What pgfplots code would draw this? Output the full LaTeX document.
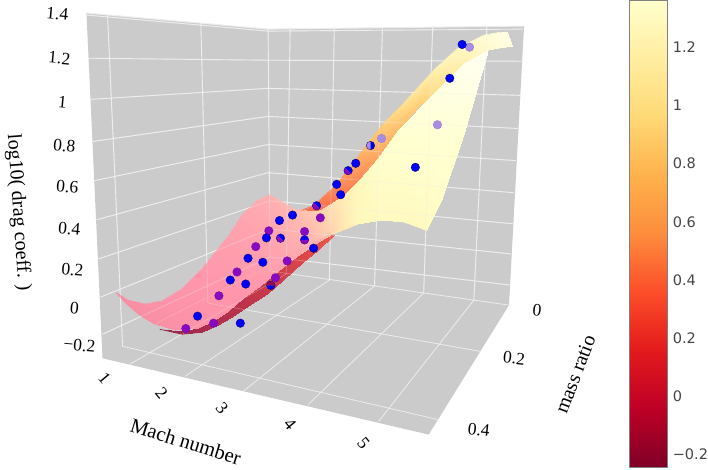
\documentclass[border=0pt]{standalone}
\usepackage{fontspec}
\setmainfont{Liberation Serif}
\newfontfamily\barfont{DejaVu Sans}
\usepackage{pgfplots}
\usetikzlibrary{plotmarks}
\pgfplotsset{compat=1.18}

\definecolor{wall}{RGB}{203,203,203}
\definecolor{gridc}{RGB}{238,238,238}
\definecolor{dotblue}{RGB}{0,0,250}
\definecolor{dotpurple}{RGB}{136,10,196}
\definecolor{dotlav}{RGB}{168,140,232}
\definecolor{dotred}{RGB}{150,10,90}

\tikzset{tl/.style={font=\fontsize{17.5}{18}\selectfont}}
\pgfplotsset{
  % lit top of the surface
  colormap={sheet}{rgb255=(225,110,145) rgb255=(245,140,160) rgb255=(255,150,172) rgb255=(255,172,176)
    rgb255=(255,205,175) rgb255=(255,232,178) rgb255=(255,248,188) rgb255=(255,255,208) rgb255=(255,255,245)},
  % fold of the surface
  colormap={band}{rgb255=(150,40,78) rgb255=(185,50,75) rgb255=(225,75,72) rgb255=(250,105,80)
    rgb255=(255,150,90) rgb255=(255,190,108) rgb255=(255,220,135) rgb255=(255,245,185) rgb255=(255,255,228)},
  colormap={ylorrd}{rgb255=(128,0,38) rgb255=(189,0,38) rgb255=(227,26,28) rgb255=(252,78,42)
    rgb255=(253,141,60) rgb255=(254,178,76) rgb255=(254,217,118) rgb255=(255,237,160) rgb255=(255,255,204)},
  dots/.style={only marks, mark=*, mark size=4.3pt, forget plot},
  edge/.style={mesh, line width=0.7pt, point meta=explicit, forget plot, no marks},
}

% wall and floor grid, drawn again faintly over the surface
\newcommand{\wallgrid}[1]{%
  \addplot[gridc, line width=0.9pt, unbounded coords=jump, forget plot, #1] coordinates {
    (87,13)(268,29)(nan,nan) (87,15)(268,31)(nan,nan)
    (89,58)(268,60)(nan,nan) (91,99)(268,88)(nan,nan) (93,141)(268,116)(nan,nan)
    (95,180)(268,144)(nan,nan) (97,219)(268,172)(nan,nan) (99,258)(270,200)(nan,nan)
    (101,296)(270,228)(nan,nan) (103,333)(270,256)(nan,nan)
    (108,15)(123,345)(nan,nan) (201,23)(208,302)(nan,nan) (268,29)(270,270)(nan,nan)
    (268,29)(523,26)(nan,nan) (268,31)(522,29)(nan,nan)
    (268,60)(522,61)(nan,nan) (268,88)(519,95)(nan,nan) (268,116)(517,128)(nan,nan)
    (268,144)(515,160)(nan,nan) (268,172)(513,192)(nan,nan) (270,200)(512,223)(nan,nan)
    (270,228)(510,253)(nan,nan) (270,256)(509,284)(nan,nan)
    (290,27)(286,273)(nan,nan) (334,27)(329,279)(nan,nan) (382,27)(374,285)(nan,nan)
    (432,26)(423,292)(nan,nan) (486,26)(473,299)(nan,nan)
  };
  \addplot[gridc, line width=0.7pt, unbounded coords=jump, forget plot, #1] coordinates {
    (270,270)(508,304)(nan,nan) (208,302)(479,350)(nan,nan) (123,345)(437,418)(nan,nan)
    (286,273)(130,363)(nan,nan) (329,279)(185,375)(nan,nan) (374,285)(243,390)(nan,nan)
    (423,292)(308,403)(nan,nan) (473,299)(378,420)(nan,nan)
  };
}

\begin{document}
\begin{tikzpicture}
\begin{axis}[
    scale only axis, width=708bp, height=470bp,
    xmin=0, xmax=708, ymin=0, ymax=470, y dir=reverse,
    hide axis, clip=true,
    point meta min=-0.245, point meta max=1.362,
  ]
  % the perspective scene is flattened to the picture plane: coordinates are picture positions,
  % the third column of the surface tables is the colour value
  \addplot[fill=wall, draw=none, forget plot] coordinates {
    (87,13) (268,29) (523,26) (508,304) (428,433) (103,357)} -- cycle;

  \wallgrid{}

  % underside seen below the front edge
  \addplot[surf, shader=interp, colormap name=band, mesh/cols=2, point meta=explicit, forget plot]
    table[x=x, y=y, meta=m] {
    x y m
    160 328 -0.24
    160 328 -0.24
    182 330 -0.20
    182 333 -0.20
    198 327 -0.15
    202 331 -0.15
    215 319 -0.10
    218 324 -0.10
    228 310 -0.07
    230 317 -0.07
    243 297 -0.02
    248 305 -0.02
    260 285 0.02
    267 293 0.02
    277 271 0.06
    283 279 0.06
    300 253 0.12
    303 261 0.12
    315 243 0.18
    318 249 0.18
    332 233 0.25
    334 234 0.25
  };
  \addplot[edge, colormap name=band] table[x=x, y=y, meta=m] {
    x y m
    160 328 -0.24
    182 333 -0.20
    202 331 -0.15
    218 324 -0.10
    230 317 -0.07
    248 305 -0.02
    267 293 0.02
    283 279 0.06
    303 261 0.12
    318 249 0.18
    334 234 0.25
  };

  % band along the ridge
  \addplot[surf, shader=interp, colormap name=band, mesh/cols=2, point meta=explicit, forget plot]
    table[x=x, y=y, meta=m] {
    x y m
    300 210 0.35
    305 212 0.30
    313 205 0.42
    327 207 0.38
    333 187 0.50
    343 195 0.42
    350 167 0.62
    360 178 0.50
    367 143 0.75
    377 157 0.62
    383 123 0.88
    397 130 0.74
    403 103 1.00
    417 107 0.85
    433 70 1.12
    433 93 0.98
    457 48 1.20
    463 63 1.12
    483 35 1.30
    487 50 1.25
    500 32 1.34
    497 48 1.30
    506 32 1.36
    511 46 1.34
  };
  \addplot[edge, colormap name=band] table[x=x, y=y, meta=m] {
    x y m
    300 210 0.35
    313 205 0.42
    333 187 0.50
    350 167 0.62
    367 143 0.75
    383 123 0.88
    403 103 1.00
    433 70 1.12
    457 48 1.20
    483 35 1.30
    500 32 1.34
    506 32 1.36
    511 46 1.34
    497 48 1.30
  };

  % main sheet
  \addplot[surf, shader=interp, colormap name=sheet, mesh/cols=2, point meta=explicit, forget plot]
    table[x=x, y=y, meta=m] {
    x y m
    117 292 0.00
    117 292 0.00
    128 299 0.02
    126 302 0.00
    145 303 0.05
    140 314 0.00
    162 300 0.09
    155 323 0.02
    182 288 0.13
    175 329 0.05
    202 268 0.17
    198 327 0.08
    210 258 0.20
    215 319 0.10
    227 237 0.24
    228 310 0.12
    243 213 0.30
    243 297 0.15
    257 200 0.35
    260 285 0.18
    269 194 0.38
    277 271 0.24
    280 200 0.40
    288 262 0.30
    293 208 0.45
    300 253 0.36
    307 210 0.50
    315 243 0.42
    320 209 0.60
    332 233 0.60
    343 195 0.80
    357 223 0.95
    360 178 1.00
    380 219 1.00
    377 157 1.12
    403 221 1.00
    397 130 1.18
    425 229 1.00
    433 93 1.25
    440 200 1.08
    463 63 1.32
    463 133 1.18
    487 50 1.36
    475 90 1.28
    487 50 1.36
    487 50 1.36
  };
  \addplot[edge, colormap name=sheet] table[x=x, y=y, meta=m] {
    x y m
    117 292 0.00
    128 299 0.02
    145 303 0.05
    162 300 0.09
    182 288 0.13
    202 268 0.17
    210 258 0.20
    227 237 0.24
    243 213 0.30
    257 200 0.35
    269 194 0.38
    280 200 0.40
    293 208 0.45
    307 210 0.50
  };
  \addplot[edge, colormap name=sheet] table[x=x, y=y, meta=m] {
    x y m
    117 292 0.00
    126 302 0.00
    140 314 0.00
    155 323 0.02
    332 233 0.60
    357 223 0.95
    380 219 1.00
    403 221 1.00
    425 229 1.00
    440 200 1.08
    463 133 1.18
    475 90 1.28
    487 50 1.36
  };

  \wallgrid{opacity=0.3}

  % dots seen through the surface
  \addplot[dots, mark options={fill=dotpurple, draw=dotpurple!80!black, line width=0.3pt}]
    coordinates {(186,327.3) (213.7,322) (219,294.7) (237,271) (255.7,245.7) (268.7,230)
      (304.3,230.7) (287,260) (275.3,276.7) (320,217)};
  \addplot[dots, mark options={fill=dotlav, draw=dotlav!85!black, line width=0.3pt}]
    coordinates {(468.7,47) (436.7,124.3) (381,138)};
  % dots in front of it
  \addplot[dots, mark options={fill=dotblue, draw=black!60!blue, line width=0.3pt}]
    coordinates {(197.7,315) (240.3,322) (230.3,279) (245.7,283) (248,257.3) (262.7,261.3) (266.3,237)
      (279.3,219.7) (292.3,214.3) (313.3,247.3) (340.3,194) (461.3,44.3)
      (449,78) (414.7,166.7) (355.3,162.7) (336.3,183.7)};
  % dots that cross the surface
  \addplot[dots, mark=halfcircle*, mark color=dotpurple, mark options={rotate=-45, fill=dotblue, draw=black!60!blue, line width=0.3pt}]
    coordinates {(280.3,237.3) (316.3,205) (347.7,170)};
  \addplot[dots, mark=halfcircle*, mark color=dotpurple, mark options={rotate=0, fill=dotblue, draw=black!60!blue, line width=0.3pt}]
    coordinates {(304.3,239)};
  \addplot[dots, mark=halfcircle*, mark color=dotlav, mark options={rotate=-90, fill=dotblue, draw=black!60!blue, line width=0.3pt}]
    coordinates {(370,145)};
  \addplot[dots, mark=halfcircle*, mark color=dotred, mark options={rotate=180, fill=dotblue, draw=black!60!blue, line width=0.3pt}]
    coordinates {(270.7,284.3)};

  % z ticks
  \node[tl, rotate=-5] at (axis cs:58,14) {1.4};
  \node[tl, rotate=-5] at (axis cs:60,58) {1.2};
  \node[tl, rotate=-5] at (axis cs:63,102) {1};
  \node[tl, rotate=-5] at (axis cs:65,145) {0.8};
  \node[tl, rotate=-5] at (axis cs:68,186) {0.6};
  \node[tl, rotate=-5] at (axis cs:70,228) {0.4};
  \node[tl, rotate=-5] at (axis cs:73,269) {0.2};
  \node[tl, rotate=-5] at (axis cs:75,307) {0};
  \node[tl, rotate=-5] at (axis cs:80,344) {−0.2};
  % Mach ticks
  \node[tl, rotate=-50] at (axis cs:105,377) {1};
  \node[tl, rotate=-50] at (axis cs:162,392) {2};
  \node[tl, rotate=-50] at (axis cs:222,407) {3};
  \node[tl, rotate=-50] at (axis cs:290,423) {4};
  \node[tl, rotate=-50] at (axis cs:363,442) {5};
  % mass ratio ticks
  \node[tl, rotate=-6] at (axis cs:536,309) {0};
  \node[tl, rotate=-6] at (axis cs:513,357) {0.2};
  \node[tl, rotate=-6] at (axis cs:478,428) {0.4};
  % axis titles
  \node[rotate=-86, font=\fontsize{20}{21}\selectfont] at (axis cs:19,212) {log10( drag coeff. )};
  \node[rotate=-17, font=\fontsize{20.5}{21}\selectfont] at (axis cs:186,440) {Mach number};
  \node[rotate=69, font=\fontsize{20}{21}\selectfont] at (axis cs:574,373) {mass ratio};
\end{axis}

% colour scale
\begin{axis}[
    at={(628bp,4.5bp)}, anchor=south west,
    scale only axis, width=38bp, height=465bp,
    xmin=0, xmax=1, ymin=-0.245, ymax=1.362,
    axis line style={draw=black!50, line width=1pt},
    xtick=\empty,
    yticklabel pos=right,
    ytick={-0.2,0,0.2,0.4,0.6,0.8,1,1.2},
    yticklabels={−0.2,0,0.2,0.4,0.6,0.8,1,1.2},
    major tick length=0pt,
    yticklabel style={font=\barfont\fontsize{14.5}{15}\selectfont, text=black!73, anchor=west, inner sep=0pt, xshift=5bp},
    point meta min=-0.245, point meta max=1.362,
    axis on top,
  ]
  \addplot[surf, shader=interp, colormap name=ylorrd, mesh/cols=2, point meta=explicit]
    table[x=x, y=y, meta=m] {
    x y m
    0 -0.245 -0.245
    1 -0.245 -0.245
    0 1.362 1.362
    1 1.362 1.362
  };
\end{axis}
\end{tikzpicture}
\end{document}
